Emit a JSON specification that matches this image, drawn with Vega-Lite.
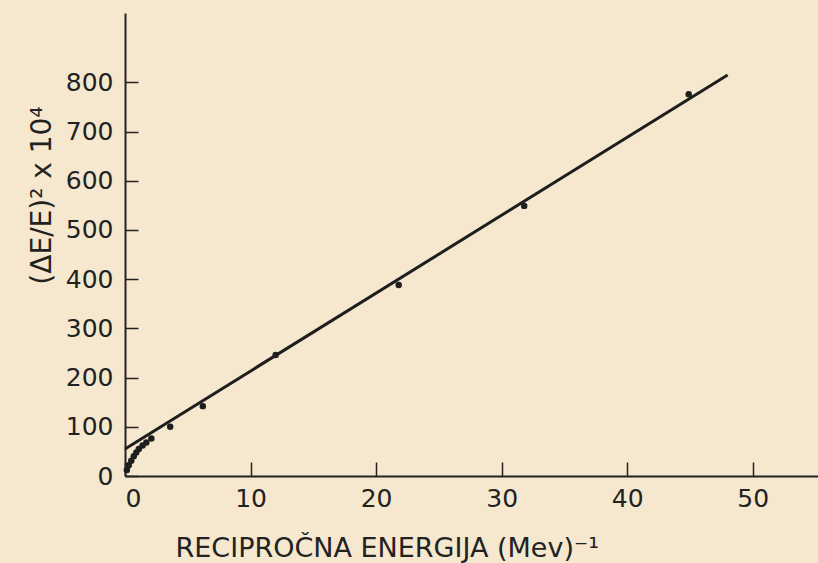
{
  "$schema": "https://vega.github.io/schema/vega-lite/v6.json",
  "width": 693,
  "height": 463,
  "autosize": {"type": "none"},
  "padding": {"left": 125, "top": 13, "right": 0, "bottom": 87},
  "background": "#f6e8cf",
  "config": {
    "view": {"stroke": null},
    "font": "DejaVu Sans",
    "axis": {
      "grid": false,
      "domainColor": "#222",
      "domainWidth": 2,
      "tickColor": "#222",
      "tickWidth": 1.5,
      "labelColor": "#222",
      "labelFont": "DejaVu Sans",
      "labelFontSize": 25,
      "titleColor": "#222",
      "titleFont": "DejaVu Sans",
      "titleFontWeight": "normal",
      "titleFontSize": 27
    }
  },
  "datasets": {
    "points": [
      {"x": 0.15, "y": 12},
      {"x": 0.3, "y": 22},
      {"x": 0.5, "y": 31},
      {"x": 0.7, "y": 40},
      {"x": 0.9, "y": 48},
      {"x": 1.1, "y": 55},
      {"x": 1.4, "y": 62},
      {"x": 1.7, "y": 68},
      {"x": 2.1, "y": 76},
      {"x": 3.6, "y": 100},
      {"x": 6.2, "y": 142},
      {"x": 12.0, "y": 246},
      {"x": 21.8, "y": 388},
      {"x": 31.8, "y": 549},
      {"x": 44.9, "y": 776}
    ],
    "fit": [
      {"x": 0, "y": 55},
      {"x": 48, "y": 815}
    ]
  },
  "layer": [
    {
      "data": {"name": "fit"},
      "mark": {"type": "line", "color": "#1e1e1e", "strokeWidth": 3},
      "encoding": {
        "x": {
          "field": "x", "type": "quantitative",
          "scale": {"domain": [0, 55.2], "nice": false, "zero": false},
          "axis": {
            "values": [0, 10, 20, 30, 40, 50],
            "tickSize": -14,
            "labelPadding": 24,
            "title": "RECIPROČNA ENERGIJA (Mev)⁻¹",
            "titleAnchor": "start",
            "titleAlign": "left",
            "titleX": 50,
            "titleY": 80,
            "titleBaseline": "alphabetic"
          }
        },
        "y": {
          "field": "y", "type": "quantitative",
          "scale": {"domain": [0, 941], "nice": false, "zero": false},
          "axis": {
            "values": [0, 100, 200, 300, 400, 500, 600, 700, 800],
            "tickSize": -13,
            "labelPadding": 25,
            "title": "(ΔE/E)² x 10⁴",
            "titleFontSize": 28,
            "titleAngle": -90,
            "titleX": -83,
            "titleY": 182,
            "titleAlign": "center",
            "titleBaseline": "middle"
          }
        }
      }
    },
    {
      "data": {"name": "points"},
      "mark": {"type": "circle", "color": "#1e1e1e", "opacity": 1, "size": 42},
      "encoding": {
        "x": {"field": "x", "type": "quantitative"},
        "y": {"field": "y", "type": "quantitative"}
      }
    }
  ]
}
